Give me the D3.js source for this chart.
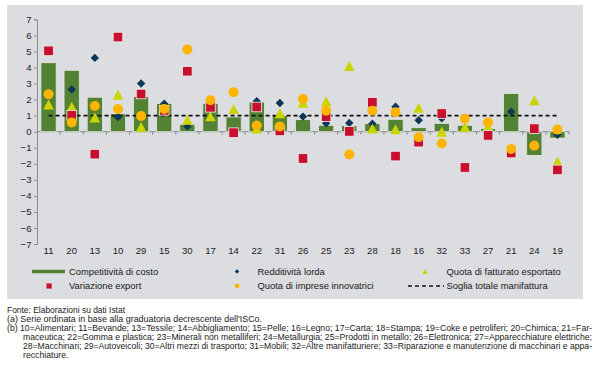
<!DOCTYPE html>
<html><head><meta charset="utf-8">
<script src="https://cdn.jsdelivr.net/npm/d3@7/dist/d3.min.js"></script>
<style>
html,body{margin:0;padding:0;background:#fff;}
svg{display:block;font-family:"Liberation Sans",Arial,sans-serif;}
</style></head>
<body><svg id="c" width="600" height="369"></svg>
<script>
const categories = ["11","20","13","10","29","15","30","17","14","22","31","26","25","23","28","18","16","32","33","27","21","24","19"];
const competitivita = [4.3,3.83,2.15,1.12,2.19,1.75,0.46,1.77,0.92,1.85,1.0,0.75,0.4,0.38,0.5,0.77,0.25,0.52,0.4,0.2,2.38,-1.48,-0.4];
const redditivita = [2.33,2.63,4.6,0.92,3.0,1.75,0.33,1.52,2.46,1.9,1.79,0.94,0.52,0.54,0.5,1.56,0.71,0.83,0.81,0.58,1.25,-0.95,-0.19];
const quotaFatturato = [1.7,1.55,0.88,2.3,0.3,1.38,0.75,0.96,1.42,0.2,1.15,1.8,1.9,4.1,0.2,0.15,1.5,0.0,0.3,0.33,-1.3,1.96,-1.85];
const variazioneExport = [5.04,1.02,-1.4,5.9,2.35,1.33,3.77,1.52,-0.06,1.54,0.05,-1.67,0.94,0.02,1.83,-1.52,-0.65,1.13,-2.23,-0.23,-1.33,0.19,-2.38];
const quotaInnovatrici = [2.33,0.58,1.6,1.42,0.98,1.42,5.13,1.96,2.46,0.38,0.33,2.04,1.31,-1.42,1.31,1.21,-0.35,-0.73,0.81,0.58,-1.08,-0.88,0.13];
const soglia = 1;
const yTicks = [-7,-6,-5,-4,-3,-2,-1,0,1,2,3,4,5,6,7];
const legendLabels = ["Competitività di costo","Redditività lorda","Quota di fatturato esportato","Variazione export","Quota di imprese innovatrici","Soglia totale manifattura"];
const notes = [
 "Fonte: Elaborazioni su dati Istat",
 "(a) Serie ordinata in base alla graduatoria decrescente dell'ISCo.",
 "(b) 10=Alimentari; 11=Bevande; 13=Tessile; 14=Abbigliamento; 15=Pelle; 16=Legno; 17=Carta; 18=Stampa; 19=Coke e petroliferi; 20=Chimica; 21=Far-",
 "maceutica; 22=Gomma e plastica; 23=Minerali non metalliferi; 24=Metallurgia; 25=Prodotti in metallo; 26=Elettronica; 27=Apparecchiature elettriche;",
 "28=Macchinari; 29=Autoveicoli; 30=Altri mezzi di trasporto; 31=Mobili; 32=Altre manifatturiere; 33=Riparazione e manutenzione di macchinari e appa-",
 "recchiature."
];

const C = {bar:"#548235", dia:"#0c3756", tri:"#c9d400", sq:"#c8102e", circ:"#ffb400"};
const svg = d3.select("#c");
svg.append("rect").attr("x",7).attr("y",5).attr("width",576).attr("height",294).attr("fill","#dcdde0");

const x = d3.scaleBand().domain(categories).range([37,569]).padding(0);
const y = d3.scaleLinear().domain([-7,7]).range([244,19.4]);
const cx = c => x(c) + x.bandwidth()/2;

// y axis
const ya = svg.append("g").attr("transform","translate(37,0)")
  .call(d3.axisLeft(y).tickValues(yTicks).tickSize(3).tickPadding(2.5).tickFormat(d3.format("d")));
ya.select(".domain").attr("stroke","#8c8c8c");
ya.selectAll(".tick line").attr("stroke","#8c8c8c");
ya.selectAll("text").attr("font-size","9.6px").attr("fill","#222").attr("font-family","Liberation Sans, Arial, sans-serif");

// x labels
const xa = svg.append("g").attr("transform","translate(0,244)")
  .call(d3.axisBottom(x).tickSize(0).tickPadding(3.5));
xa.select(".domain").remove();
xa.selectAll("text").attr("font-size","9.6px").attr("fill","#222").attr("font-family","Liberation Sans, Arial, sans-serif");

// zero line with boundary ticks
const bounds = categories.map(c => x(c)).concat([x.range()[1]]);
svg.append("line").attr("x1",37).attr("x2",569).attr("y1",y(0)).attr("y2",y(0)).attr("stroke","#8c8c8c");
svg.selectAll(".bt").data(bounds.slice(1)).enter().append("line")
  .attr("x1",d=>d).attr("x2",d=>d).attr("y1",y(0)).attr("y2",y(0)+3).attr("stroke","#8c8c8c");

// bars
const bw = x.bandwidth()*0.66;
svg.selectAll(".bar").data(categories).enter().append("rect")
  .attr("x",(c)=>cx(c)-bw/2).attr("width",bw)
  .attr("y",(c,i)=>y(Math.max(0,competitivita[i])))
  .attr("height",(c,i)=>Math.abs(y(competitivita[i])-y(0)))
  .attr("fill",C.bar).attr("stroke","#e4e6e8").attr("stroke-width",0.8);

// threshold line
svg.append("line").attr("x1",cx(categories[0])).attr("x2",cx(categories[categories.length-1]))
  .attr("y1",y(soglia)).attr("y2",y(soglia)).attr("stroke","#111").attr("stroke-width",1.8).attr("stroke-dasharray","4,3");

const diamond = s => `M0,${-s}L${s},0L0,${s}L${-s},0Z`;
const triangle = (w,h) => `M0,${-h/2}L${w/2},${h/2}L${-w/2},${h/2}Z`;

svg.selectAll(".dia").data(categories).enter().append("path")
  .attr("d",diamond(4.2)).attr("transform",(c,i)=>`translate(${cx(c)},${y(redditivita[i])})`).attr("fill",C.dia);
svg.selectAll(".tri").data(categories).enter().append("path")
  .attr("d",triangle(10.6,10)).attr("transform",(c,i)=>`translate(${cx(c)},${y(quotaFatturato[i])})`).attr("fill",C.tri);
svg.selectAll(".sq").data(categories).enter().append("rect")
  .attr("x",c=>cx(c)-4.8).attr("y",(c,i)=>y(variazioneExport[i])-4.8).attr("width",9.6).attr("height",9.6)
  .attr("fill",C.sq).attr("stroke","#eceef0").attr("stroke-width",0.8);
svg.selectAll(".ci").data(categories).enter().append("circle")
  .attr("cx",c=>cx(c)).attr("cy",(c,i)=>y(quotaInnovatrici[i])).attr("r",5).attr("fill",C.circ);

// legend
const lg = svg.append("g").attr("font-size","9.4px").attr("fill","#1a1a1a");
const r1 = 271.5, r2 = 286;
lg.append("line").attr("x1",32).attr("x2",65).attr("y1",r1).attr("y2",r1).attr("stroke",C.bar).attr("stroke-width",3.3);
lg.append("path").attr("d",diamond(2.2)).attr("transform",`translate(237,${r1})`).attr("fill",C.dia);
lg.append("path").attr("d",triangle(5.6,5.2)).attr("transform",`translate(425,${r1})`).attr("fill",C.tri);
lg.append("rect").attr("x",46.5).attr("y",r2-2.6).attr("width",5.2).attr("height",5.2).attr("fill",C.sq);
lg.append("circle").attr("cx",237).attr("cy",r2).attr("r",2.4).attr("fill",C.circ);
lg.append("line").attr("x1",408).attr("x2",444).attr("y1",r2).attr("y2",r2).attr("stroke","#111").attr("stroke-width",1.6).attr("stroke-dasharray","4,3");
const lpos = [[69,r1],[257.5,r1],[446.5,r1],[69,r2],[257.5,r2],[446.5,r2]];
lg.selectAll("text").data(legendLabels).enter().append("text")
  .attr("x",(d,i)=>lpos[i][0]).attr("y",(d,i)=>lpos[i][1]).attr("dy","0.35em").text(d=>d);

// notes: condensed look; lines (b) justified
const nx = [7,7,7,23,23,23];
const nb = [312.6,321.6,330.6,339.6,348.6,357.6];
const nEnd = [125,262,592,592,592,null];
const ng = svg.append("g").attr("font-family","Liberation Sans, Arial, sans-serif").attr("font-size","8.6px").attr("fill","#1a1a1a");
const tn = notes.map((t,i)=> ng.append("text").attr("x",nx[i]).attr("y",nb[i]).text(t));
const natB = tn[2].node().getComputedTextLength();
const k = (nEnd[2]-nx[2]) / natB;
tn.forEach((el,i)=>{
  const L = nEnd[i] ? (nEnd[i]-nx[i]) : el.node().getComputedTextLength()*k;
  el.attr("textLength",L).attr("lengthAdjust","spacingAndGlyphs");
});
</script></body></html>
